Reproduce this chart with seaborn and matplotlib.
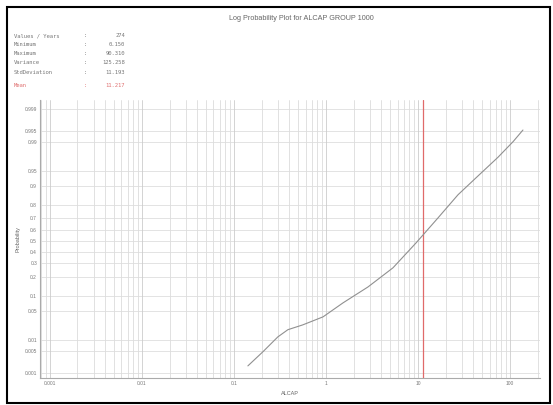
import matplotlib
matplotlib.use("Agg")
import matplotlib.pyplot as plt
import seaborn as sns
import pandas as pd
import numpy as np
from statistics import NormalDist
from matplotlib.patches import Rectangle

# ---- data ----
alcap = [0.142, 0.207, 0.30, 0.386, 0.56, 0.93, 1.53, 2.86, 5.35, 9.5, 16.5, 27.2, 44.9, 74.0, 108.0, 138.0]
prob = [0.0017, 0.0047, 0.0122, 0.0187, 0.0245, 0.0375, 0.073, 0.14, 0.264, 0.48, 0.705, 0.86, 0.936, 0.975, 0.990, 0.9953]
prob_ticks = [0.999, 0.995, 0.99, 0.95, 0.9, 0.8, 0.7, 0.6, 0.5, 0.4, 0.3, 0.2, 0.1, 0.05, 0.01, 0.005, 0.001]
prob_labels = ["0.999", "0.995", "0.99", "0.95", "0.9", "0.8", "0.7", "0.6", "0.5", "0.4", "0.3", "0.2", "0.1", "0.05", "0.01", "0.005", "0.001"]
x_ticks = [0.001, 0.01, 0.1, 1, 10, 100]
x_labels = ["0.001", "0.01", "0.1", "1", "10", "100"]
stat_names = ["Values / Years", "Minimum", "Maximum", "Variance", "StdDeviation"]
stat_values = ["274", "0.150", "90.310", "125.258", "11.193"]
mean_value = 11.217
title = "Log Probability Plot for ALCAP GROUP 1000"

nd = NormalDist()
df = pd.DataFrame({"ALCAP": alcap, "z": [nd.inv_cdf(p) for p in prob]})

sns.set_theme(style="white")
plt.rcParams['font.family'] = ['Liberation Sans', 'DejaVu Sans']

XMIN, XMAX = 0.00078, 210

fig = plt.figure(figsize=(5.53, 4.05), dpi=100)
ax = fig.add_axes([0.072, 0.067, 0.904, 0.686])

sns.lineplot(data=df, x="ALCAP", y="z", ax=ax, color="#909090", linewidth=0.8, sort=False, zorder=4)
ax.set_xscale("log")
ax.set_xlim(XMIN, XMAX)
ax.set_ylim(-3.21, 3.30)

ax.set_yticks([nd.inv_cdf(p) for p in prob_ticks])
ax.set_yticklabels(prob_labels)
ax.set_xticks(x_ticks)
ax.set_xticklabels(x_labels)
ax.minorticks_off()
ax.tick_params(axis="both", labelsize=3.5, colors="#777777", length=0, pad=2)

# grid
for p in prob_ticks:
    ax.axhline(nd.inv_cdf(p), color="#dedede", linewidth=0.6, zorder=0)
for dec in [0.0001, 0.001, 0.01, 0.1, 1, 10, 100]:
    for m in range(1, 10):
        v = dec * m
        if XMIN < v < XMAX:
            ax.axvline(v, color="#dcdcdc" if m > 1 else "#cccccc", linewidth=0.6, zorder=0)
ax.axvline(mean_value, color="#e06a6a", linewidth=0.9, zorder=3)

for s in ["top", "right"]:
    ax.spines[s].set_visible(False)
for s in ["left", "bottom"]:
    ax.spines[s].set_color("#aaaaaa")
    ax.spines[s].set_linewidth(0.8)

ax.set_xlabel("ALCAP", fontsize=4, color="#666666", labelpad=4)
ax.set_ylabel("Probability", fontsize=4, color="#666666", labelpad=3)

fig.text(0.545, 0.955, title, ha="center", va="center", fontsize=5.2, color="#666666")

y0 = 0.912
for i, (n, v) in enumerate(zip(stat_names, stat_values)):
    y = y0 - i * 0.0225
    fig.text(0.025, y, n, family="DejaVu Sans Mono", fontsize=4, color="#777777", va="center")
    fig.text(0.152, y, ":", family="DejaVu Sans Mono", fontsize=4, color="#777777", va="center")
    fig.text(0.226, y, v, family="DejaVu Sans Mono", fontsize=4, color="#777777", va="center", ha="right")
fig.text(0.025, 0.790, "Mean", family="DejaVu Sans Mono", fontsize=4, color="#e07070", va="center")
fig.text(0.152, 0.790, ":", family="DejaVu Sans Mono", fontsize=4, color="#e07070", va="center")
fig.text(0.226, 0.790, f"{mean_value:.3f}", family="DejaVu Sans Mono", fontsize=4, color="#e07070", va="center", ha="right")

# frame
fig.add_artist(Rectangle((0.012, 0.005), 0.983, 0.978, transform=fig.transFigure,
                         fill=False, edgecolor="black", linewidth=1.5))

fig.savefig("out.png", dpi=100, facecolor="white")
